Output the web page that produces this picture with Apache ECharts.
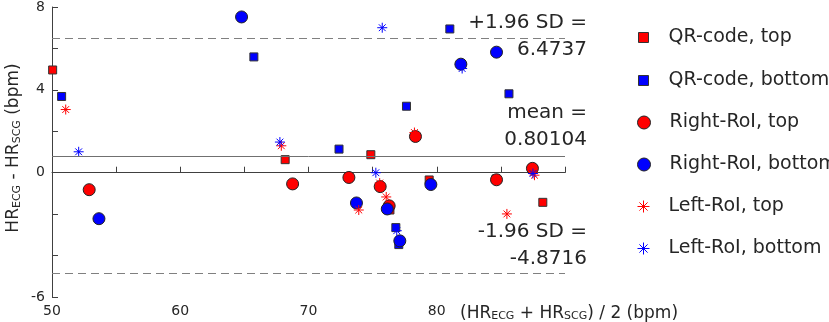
<!DOCTYPE html>
<html>
<head>
<meta charset="utf-8">
<script src="https://cdn.jsdelivr.net/npm/echarts@6/dist/echarts.min.js"></script>
<style>
  html, body { margin: 0; padding: 0; background: #fff; }
  #chart { width: 829px; height: 322px; }
</style>
</head>
<body>
<div id="chart"></div>
<script>
// Bland-Altman: difference vs mean of HR (bpm)
var qrTop = [[50.05, 4.96], [68.18, 0.63], [74.86, 0.87], [76.35, -1.8], [79.41, -0.35], [84.62, -0.3], [88.27, -1.43]];
var qrBottom = [[50.75, 3.68], [65.74, 5.59], [72.38, 1.14], [76.81, -2.65], [77.04, -3.47], [77.64, 3.21], [81.02, 6.94], [85.63, 3.81]];
var rightTop = [[52.9, -0.82], [68.76, -0.54], [73.15, -0.23], [75.59, -0.67], [76.29, -1.6], [78.34, 1.75], [84.66, -0.34], [87.46, 0.21]];
var rightBottom = [[53.66, -2.22], [64.78, 7.52], [73.74, -1.46], [76.14, -1.75], [77.12, -3.29], [79.54, -0.57], [81.88, 5.24], [84.66, 5.82]];
var leftTop = [[51.07, 3.05], [67.88, 1.3], [73.92, -1.8], [75.55, -0.5], [76.06, -1.17], [78.26, 1.94], [85.47, -1.99], [87.62, -0.12]];
var leftBottom = [[52.08, 1.01], [67.77, 1.48], [75.25, 0.0], [75.75, 7.0], [76.88, -2.8], [81.98, 5.03], [87.5, -0.04]];

var meanDiff = 0.80104;
var upperLoA = 6.4737;
var lowerLoA = -4.8716;

var xTickLabels = [50, 60, 70, 80];
var yTickLabels = [8, 4, 0, -6];

var names = ['QR-code, top', 'QR-code, bottom', 'Right-RoI, top', 'Right-RoI, bottom', 'Left-RoI, top', 'Left-RoI, bottom'];

var FONT = 'DejaVu Sans';
var TXT = '#262626';
var STAR = 'path://M5 0L5 10M0 5L10 5M1.6 1.6L8.4 8.4M1.6 8.4L8.4 1.6';

var myChart = echarts.init(document.getElementById('chart'));

function mkSeries(name, data, symbol, size, color, edge) {
    return {
        name: name,
        type: 'scatter',
        data: data,
        symbol: symbol,
        symbolSize: size,
        itemStyle: {
            color: color,
            borderColor: edge || color,
            borderWidth: 1,
            opacity: 1
        },
        emphasis: { disabled: true }
    };
}

var series = [
    mkSeries(names[0], qrTop, 'rect', 8, '#ff0000', '#333'),
    mkSeries(names[1], qrBottom, 'rect', 8, '#0000ff', '#333'),
    mkSeries(names[2], rightTop, 'circle', 12, '#ff0000', '#222'),
    mkSeries(names[3], rightBottom, 'circle', 12, '#0000ff', '#222'),
    mkSeries(names[4], leftTop, STAR, 10, '#ff0000'),
    mkSeries(names[5], leftBottom, STAR, 10, '#0000ff')
];

// limit lines
series[0].markLine = {
    silent: true,
    symbol: 'none',
    label: { show: false },
    animation: false,
    data: [
        { yAxis: meanDiff, lineStyle: { color: '#707070', width: 1, type: 'solid' } },
        { yAxis: upperLoA, lineStyle: { color: '#808080', width: 1, type: [8, 5] } },
        { yAxis: lowerLoA, lineStyle: { color: '#808080', width: 1, type: [8, 5] } }
    ]
};

// one legend per entry so every icon keeps its own size
var legendRows = [36, 79, 121, 163, 205, 247];
var legendSizes = [10, 10, 13, 13, 12, 12];
var legends = names.map(function (n, i) {
    var h = legendSizes[i];
    return {
        data: [n],
        orient: 'vertical',
        left: Math.round(643 - h / 2),
        top: legendRows[i] - 8,
        padding: 0,
        itemWidth: h,
        itemHeight: h,
        itemStyle: { borderWidth: 1 },
        selectedMode: false,
        textStyle: {
            fontFamily: FONT, fontSize: 19, color: TXT,
            padding: [0, 0, 0, Math.round(20 - h / 2)]
        }
    };
});

function annot(text, y) {
    return {
        type: 'text',
        right: 829 - 587,
        top: y - 12,
        style: { text: text, font: '20px "DejaVu Sans"', fill: TXT }
    };
}

var option = {
    animation: false,
    backgroundColor: '#fff',
    grid: { left: 52, top: 6, width: 513, height: 291 },
    legend: legends,
    xAxis: {
        type: 'value',
        min: 50,
        max: 90,
        interval: 5,
        axisLine: { lineStyle: { color: '#404040', width: 1 } },
        axisTick: { inside: true, length: 6, lineStyle: { color: '#404040' } },
        splitLine: { show: false },
        axisLabel: {
            margin: 7,
            fontFamily: FONT,
            fontSize: 14,
            color: TXT,
            formatter: function (v) {
                return xTickLabels.indexOf(v) >= 0 ? String(v) : '';
            }
        }
    },
    yAxis: {
        type: 'value',
        min: -6,
        max: 8,
        interval: 2,
        axisLine: { show: true, lineStyle: { color: '#404040', width: 1 } },
        axisTick: { show: true, inside: true, length: 6, lineStyle: { color: '#404040' } },
        splitLine: { show: false },
        axisLabel: {
            margin: 7,
            fontFamily: FONT,
            fontSize: 14,
            color: TXT,
            formatter: function (v) {
                return yTickLabels.indexOf(v) >= 0 ? String(v) : '';
            }
        }
    },
    graphic: [
        annot('+1.96 SD =', 25),
        annot('6.4737', 52),
        annot('mean =', 115),
        annot('0.80104', 142),
        annot('-1.96 SD =', 234),
        annot('-4.8716', 261),
        {
            type: 'text',
            left: 460,
            top: 303,
            style: {
                text: '(HR{s|ECG} + HR{s|SCG}) / 2 (bpm)',
                font: '17px "DejaVu Sans"',
                fill: TXT,
                rich: {
                    s: { fontSize: 11, fontFamily: FONT, fill: TXT, verticalAlign: 'bottom', lineHeight: 11, padding: [8, 0, 0, 0] }
                }
            }
        },
        {
            type: 'text',
            x: 14,
            y: 148,
            rotation: Math.PI / 2,
            style: {
                text: 'HR{s|ECG} - HR{s|SCG} (bpm)',
                font: '17px "DejaVu Sans"',
                fill: TXT,
                align: 'center',
                verticalAlign: 'middle',
                rich: {
                    s: { fontSize: 11, fontFamily: FONT, fill: TXT, verticalAlign: 'bottom', lineHeight: 11, padding: [8, 0, 0, 0] }
                }
            }
        }
    ],
    series: series
};

myChart.setOption(option);
</script>
</body>
</html>
